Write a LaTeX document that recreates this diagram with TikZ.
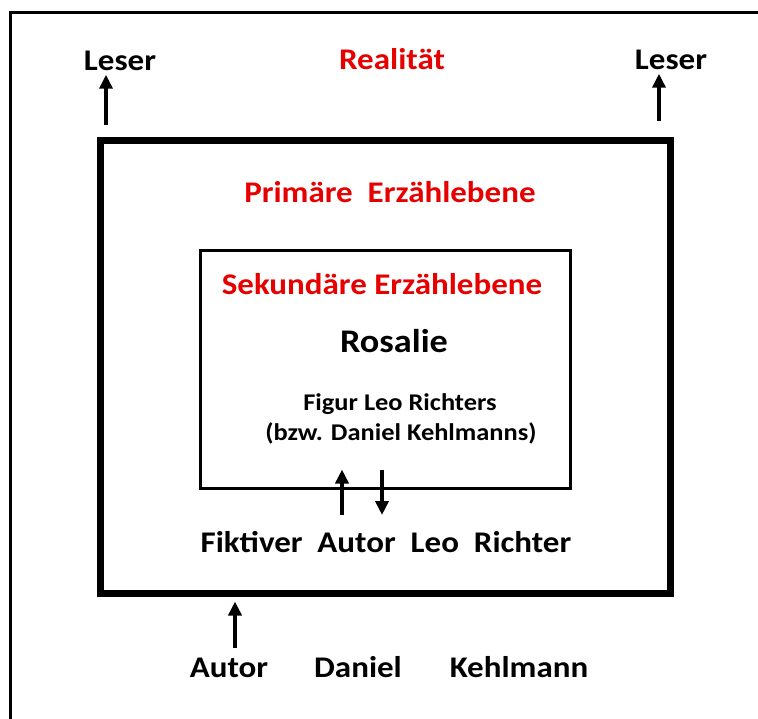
\documentclass[tikz,border=0pt]{standalone}
\usepackage{fontspec}
\setmainfont{Carlito}[FakeStretch=1.1]
\usetikzlibrary{arrows.meta}
\definecolor{ebenenrot}{RGB}{230,0,0}
\tikzset{arrow/.style={-{Triangle[width=13pt,length=14pt]}, line width=3.5pt}}
\tikzset{label-black/.style={font=\bfseries\fontsize{30}{36}\selectfont, anchor=base}}
\tikzset{label-red/.style={label-black, text=ebenenrot}}
\tikzset{label-small/.style={label-black, font=\bfseries\fontsize{24}{29}\selectfont}}

\begin{document}
\begin{tikzpicture}[x=1pt, y=-1pt]
      \useasboundingbox (0,0) rectangle (758,719);
      \clip (0,0) rectangle (758,719);
      \draw[line width=3pt] (10,13) rectangle (800,760);

      \node[draw, line width=7pt, minimum width=570pt, minimum height=452pt] (prim) at (385,367) {};
      \node[draw, line width=3pt, minimum width=370pt, minimum height=237pt] (sek) at (385,369.5) {};

      \node[label-black] (leserL) at (120,71) {Leser};
      \node[label-red] (real) at (392,70) {Realität};
      \node[label-black] (leserR) at (671,70) {Leser};
      \node[label-red] (primtxt) at (390,203) {Primäre\ \ Erzählebene};
      \node[label-red] (sektxt) at (382,295) {Sekundäre Erzählebene};
      \node[label-black, font=\bfseries\fontsize{33}{40}\selectfont] (rosalie) at (394,353) {Rosalie};
      \node[label-small] (figur) at (400,410) {Figur Leo Richters};
      \node[label-small] (bzw) at (401,440) {(bzw. Daniel Kehlmanns)};
      \node[label-black] (fiktiv) at (386,552) {Fiktiver\ \ Autor\ \ Leo\ \ Richter};
      \node[label-black] (autor) at (229,677) {Autor};
      \node[label-black] (daniel) at (358,677) {Daniel};
      \node[label-black] (kehlmann) at (519,677) {Kehlmann};

      \coordinate (lL) at (106,125);
      \coordinate (lR) at (659,121);
      \coordinate (hoch) at (342,515);
      \coordinate (runter) at (382,515);
      \coordinate (autorfuss) at (235,648);

      \draw[arrow] (lL) -- (lL |- leserL.south);
      \draw[arrow] (lR) -- (lR |- leserR.south);
      \draw[arrow] (hoch) -- ([yshift=20pt]sek.south -| hoch);
      \draw[arrow] ([yshift=20pt]sek.south -| runter) -- (runter);
      \draw[arrow, shorten >=5pt] (autorfuss) -- (autorfuss |- prim.south);

    \end{tikzpicture}
\end{document}
